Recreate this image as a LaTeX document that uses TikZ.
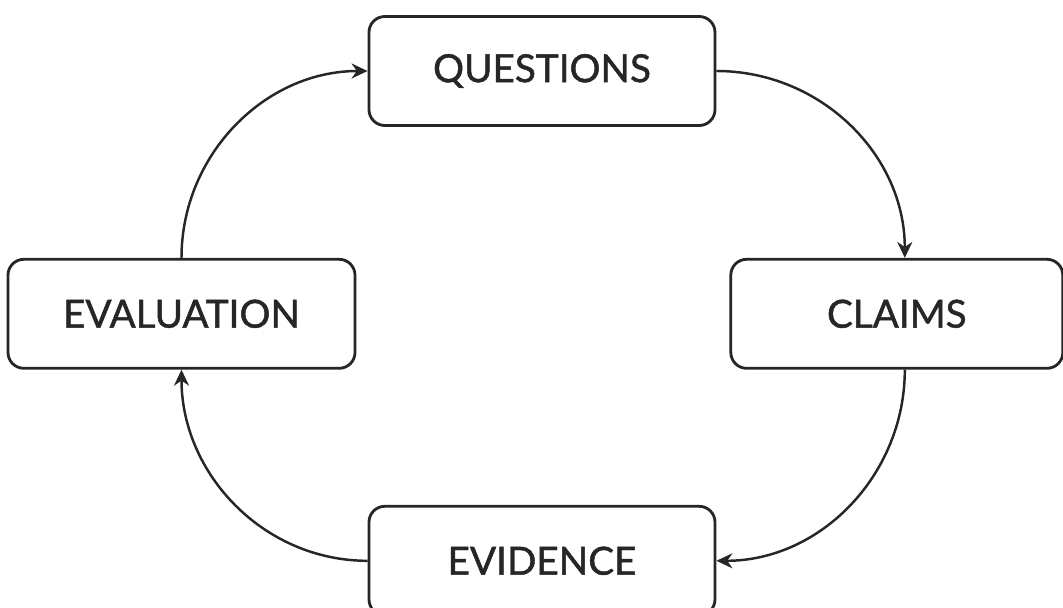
\documentclass[tikz,border=0pt]{standalone}
\usepackage{fontspec}
\setmainfont{Lato}
\newfontfamily\stagefont{Lato}[FakeBold=1.2]
\usepackage{xcolor}
\usepackage{tikz}
\usetikzlibrary{arrows.meta,positioning}
\tikzset{
  stagebox/.style={rectangle, draw=black!85, fill=white, line width=1.6pt, rounded corners=9pt,
    minimum width=6.92cm, minimum height=2.18cm, align=center,
    font=\stagefont\fontsize{22}{26}\selectfont, text=black!85, inner sep=3pt},
  cyclearrow/.style={-{Stealth[length=3.2mm,width=3mm]}, draw=black!85, line width=1.4pt},
}

\begin{document}
\begin{tikzpicture}
  \useasboundingbox (0,0) rectangle (21.26,-12.16);

  % Stages of the cycle
  \node[stagebox] (questions) at (10.84,-1.42) {QUESTIONS};
  \node[stagebox, minimum width=6.94cm, below=2.62cm of questions, xshift=-7.21cm] (evaluation) {EVALUATION};
  \node[stagebox, minimum width=6.64cm, right=7.46cm of evaluation] (claims) {CLAIMS};
  \node[stagebox, below=7.56cm of questions] (evidence) {EVIDENCE};

  % Arrows round the cycle
  \draw[cyclearrow] (questions.east) to[out=0, in=90] ([xshift=0.16cm]claims.north);
  \draw[cyclearrow] ([xshift=0.16cm]claims.south) to[out=-90, in=0] (evidence.east);
  \draw[cyclearrow] (evidence.west) to[out=180, in=-90] (evaluation.south);
  \draw[cyclearrow] (evaluation.north) to[out=90, in=180] (questions.west);

\end{tikzpicture}
\end{document}
